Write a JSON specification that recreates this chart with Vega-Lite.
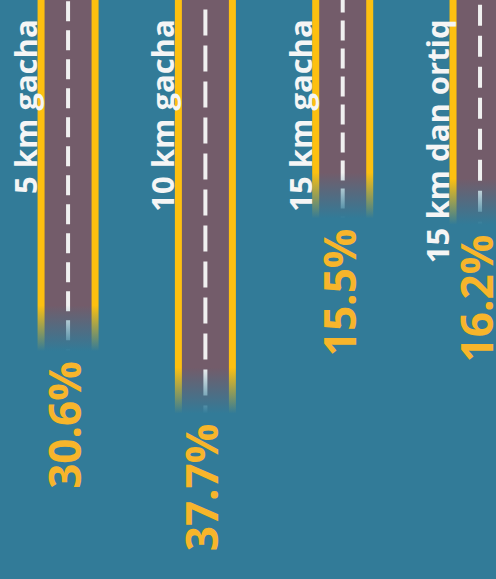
{
  "$schema": "https://vega.github.io/schema/vega-lite/v6.json",
  "width": 496,
  "height": 579,
  "autosize": "none",
  "padding": 0,
  "background": "#327b98",
  "config": {"view": {"stroke": null}},
  "data": {
    "values": [
      {"cat": "5 km gacha", "pct": 30.6, "pct_label": "30.6%"},
      {"cat": "10 km gacha", "pct": 37.7, "pct_label": "37.7%"},
      {"cat": "15 km gacha", "pct": 15.5, "pct_label": "15.5%"},
      {"cat": "15 km dan ortiq", "pct": 16.2, "pct_label": "16.2%"}
    ]
  },
  "encoding": {
    "x": {
      "field": "cat",
      "type": "nominal",
      "sort": null,
      "axis": null,
      "scale": {"type": "point", "padding": 0.306, "align": 0.81}
    }
  },
  "layer": [
    {
      "mark": {"type": "bar", "size": 61, "color": "#fdc010"},
      "encoding": {
        "y": {
          "field": "pct",
          "type": "quantitative",
          "axis": null,
          "scale": {"domain": [-9.6, 56.3], "reverse": true, "nice": false, "zero": false}
        },
        "y2": {"datum": -12}
      }
    },
    {
      "mark": {"type": "bar", "size": 47, "color": "#735c6a"},
      "encoding": {
        "y": {"field": "pct", "type": "quantitative"},
        "y2": {"datum": -12}
      }
    },
    {
      "mark": {"type": "rule", "strokeWidth": 4, "color": "#f0f0f0", "strokeDashOffset": 16},
      "encoding": {
        "y": {"field": "pct", "type": "quantitative"},
        "y2": {"datum": -9.6},
        "strokeDash": {
          "field": "cat",
          "type": "nominal",
          "legend": null,
          "scale": {
            "domain": ["5 km gacha", "10 km gacha", "15 km gacha", "15 km dan ortiq"],
            "range": [[20, 9], [26, 10], [20, 8], [21, 10]]
          }
        }
      }
    },
    {
      "mark": {
        "type": "bar",
        "size": 69,
        "yOffset": 3,
        "y2Offset": -48,
        "fill": {
          "gradient": "linear",
          "x1": 0, "y1": 0, "x2": 0, "y2": 1,
          "stops": [
            {"offset": 0, "color": "rgba(50,123,152,0)"},
            {"offset": 0.9, "color": "rgba(50,123,152,1)"},
            {"offset": 1, "color": "rgba(50,123,152,1)"}
          ]
        }
      },
      "encoding": {
        "y": {"field": "pct", "type": "quantitative"},
        "y2": {"field": "pct"}
      }
    },
    {
      "mark": {
        "type": "text",
        "angle": 270,
        "align": "right",
        "baseline": "alphabetic",
        "dy": -31,
        "font": "Open Sans",
        "fontSize": 31,
        "fontWeight": "bold",
        "color": "#f5f5f5"
      },
      "encoding": {
        "y": {"datum": -7.4, "type": "quantitative"},
        "text": {"field": "cat", "type": "nominal"}
      }
    },
    {
      "mark": {
        "type": "text",
        "angle": 270,
        "align": "right",
        "baseline": "alphabetic",
        "dx": -8,
        "dy": 13,
        "font": "Open Sans",
        "fontSize": 44,
        "fontWeight": "bold",
        "color": "#f7b52b"
      },
      "encoding": {
        "y": {"field": "pct", "type": "quantitative"},
        "text": {"field": "pct_label", "type": "nominal"}
      }
    }
  ]
}
